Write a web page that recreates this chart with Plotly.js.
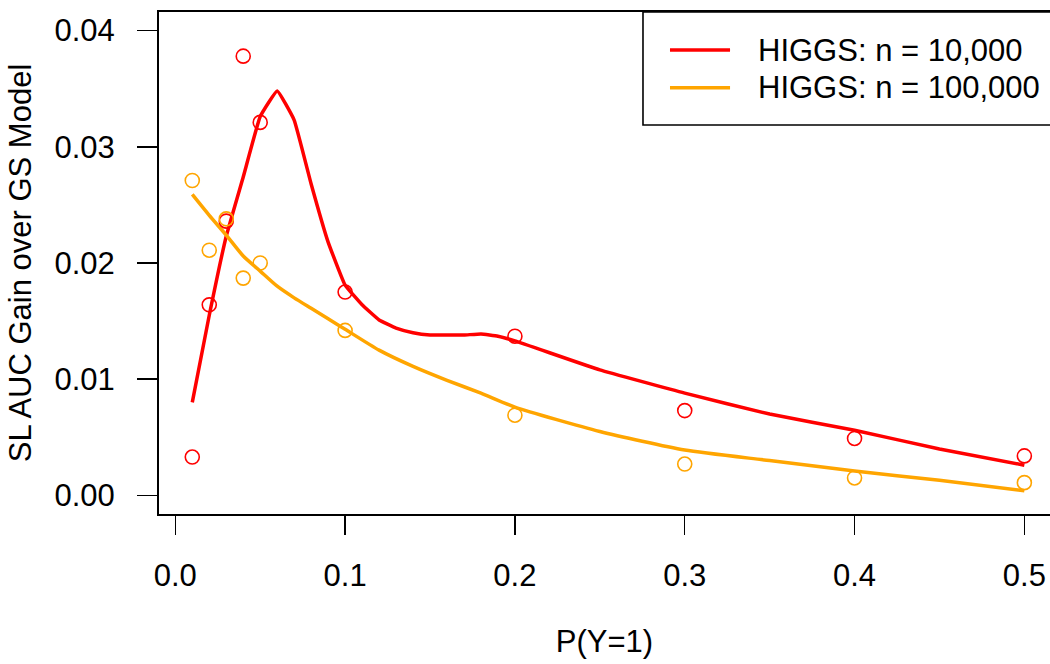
<!DOCTYPE html>
<html>
<head>
<meta charset="utf-8">
<script src="https://cdn.plot.ly/plotly-3.0.1.min.js"></script>
<style>html,body{margin:0;padding:0;background:#fff;}#chart{width:1050px;height:664px;}</style>
</head>
<body>
<div id="chart"></div>
<script>
// Observed points
var pointX = [0.01, 0.02, 0.03, 0.04, 0.05, 0.1, 0.2, 0.3, 0.4, 0.5];
var red10kPoints = [0.0033, 0.0164, 0.0236, 0.0378, 0.0321, 0.0175, 0.0137, 0.0073, 0.0049, 0.0034];
var orange100kPoints = [0.0271, 0.0211, 0.0238, 0.0187, 0.0200, 0.0142, 0.0069, 0.0027, 0.0015, 0.0011];

// Smoothed curves
var red10kCurveX = [0.01, 0.02, 0.03, 0.04, 0.05, 0.06, 0.07, 0.08, 0.09, 0.10, 0.11, 0.12, 0.13, 0.14, 0.15, 0.16, 0.17, 0.18, 0.19, 0.20, 0.25, 0.30, 0.35, 0.40, 0.45, 0.50];
var red10kCurveY = [0.0080, 0.0155, 0.0223, 0.0274, 0.0326, 0.0348, 0.0323, 0.0268, 0.0218, 0.0181, 0.0164, 0.0151, 0.0144, 0.0140, 0.0138, 0.0138, 0.0138, 0.0139, 0.0137, 0.0133, 0.0108, 0.0088, 0.0070, 0.0056, 0.0040, 0.0026];
var orange100kCurveX = [0.01, 0.02, 0.03, 0.04, 0.05, 0.06, 0.07, 0.08, 0.09, 0.10, 0.12, 0.14, 0.16, 0.18, 0.20, 0.25, 0.30, 0.35, 0.40, 0.45, 0.50];
var orange100kCurveY = [0.0259, 0.0241, 0.0224, 0.0206, 0.0193, 0.0180, 0.0170, 0.0161, 0.0152, 0.0143, 0.0125, 0.0111, 0.0099, 0.0088, 0.0076, 0.0055, 0.0039, 0.0030, 0.0021, 0.0013, 0.0004];

var seriesNames = ["HIGGS: n = 10,000", "HIGGS: n = 100,000"];
var seriesColors = ["#FF0000", "#FFA500"];

var FONT = "Liberation Sans, Arial, Helvetica, sans-serif";
var FS = 31;

var traces = [
  {x: red10kCurveX, y: red10kCurveY, mode: "lines", name: seriesNames[0],
   line: {color: seriesColors[0], width: 3.5, shape: "spline", smoothing: 0.3}, showlegend: false},
  {x: orange100kCurveX, y: orange100kCurveY, mode: "lines", name: seriesNames[1],
   line: {color: seriesColors[1], width: 3.5, shape: "spline", smoothing: 0.6}, showlegend: false},
  {x: pointX, y: red10kPoints, mode: "markers", name: seriesNames[0] + " (observed)",
   marker: {symbol: "circle-open", size: 14, color: seriesColors[0], line: {width: 1.6, color: seriesColors[0]}}, showlegend: false},
  {x: pointX, y: orange100kPoints, mode: "markers", name: seriesNames[1] + " (observed)",
   marker: {symbol: "circle-open", size: 14, color: seriesColors[1], line: {width: 1.6, color: seriesColors[1]}}, showlegend: false}
];

// legend geometry (paper coords)
var legY = [0.9243, 0.8492];
var shapes = [
  {type: "rect", xref: "paper", yref: "paper", x0: 0.5432, x1: 1.05, y0: 0.7749, y1: 1.0,
   line: {color: "#000", width: 1.6}, fillcolor: "rgba(255,255,255,1)", layer: "above"}
];
var annotations = [];
for (var i = 0; i < seriesNames.length; i++) {
  shapes.push({type: "line", xref: "paper", yref: "paper", x0: 0.5735, x1: 0.6409, y0: legY[i], y1: legY[i],
    line: {color: seriesColors[i], width: 3.5}, layer: "above"});
  annotations.push({xref: "paper", yref: "paper", x: 0.6712, y: legY[i], xanchor: "left", yanchor: "middle",
    text: seriesNames[i], showarrow: false, font: {family: FONT, size: FS, color: "#000"}, borderpad: 0});
}

var layout = {
  width: 1050, height: 664,
  margin: {l: 159, r: 0, t: 12, b: 150, pad: 0},
  paper_bgcolor: "#fff", plot_bgcolor: "#fff",
  font: {family: FONT, size: FS, color: "#000"},
  showlegend: false,
  xaxis: {
    range: [-0.0096, 0.5151], tick0: 0, dtick: 0.1, tickformat: ".1f",
    ticks: "outside", ticklen: 19, tickwidth: 1.5, tickcolor: "#000",
    showline: true, linecolor: "#000", linewidth: 2, mirror: true,
    showgrid: false, zeroline: false, ticklabelstandoff: 14,
    tickfont: {family: FONT, size: FS, color: "#000"},
    title: {text: "P(Y=1)", font: {family: FONT, size: FS, color: "#000"}, standoff: 38},
    automargin: false
  },
  yaxis: {
    range: [-0.0016, 0.0416], tick0: 0, dtick: 0.01, tickformat: ".2f",
    ticks: "outside", ticklen: 20, tickwidth: 1.5, tickcolor: "#000",
    showline: true, linecolor: "#000", linewidth: 2, mirror: false,
    showgrid: false, zeroline: false, ticklabelstandoff: 16,
    tickfont: {family: FONT, size: FS, color: "#000"},
    title: {text: "SL AUC Gain over GS Model", font: {family: FONT, size: FS, color: "#000"}, standoff: 14},
    automargin: false
  },
  shapes: shapes,
  annotations: annotations
};

Plotly.newPlot("chart", traces, layout, {staticPlot: true, displayModeBar: false});
</script>
</body>
</html>
